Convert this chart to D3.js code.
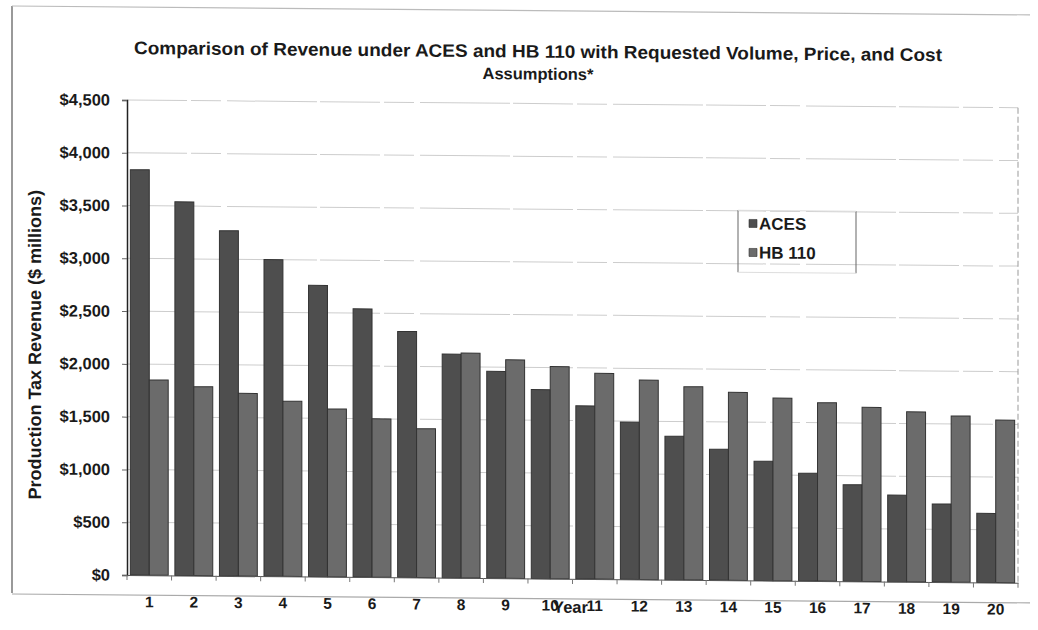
<!DOCTYPE html>
<html>
<head>
<meta charset="utf-8">
<script src="https://cdn.jsdelivr.net/npm/d3@7/dist/d3.min.js"></script>
<style>
  html, body { margin: 0; padding: 0; background: #fff; }
  svg { display: block; }
  text { font-family: "Liberation Sans", Arial, sans-serif; fill: #1a1a1a; }
</style>
</head>
<body>
<svg id="chart" width="1038" height="630"></svg>
<script>
// Production tax revenue by year, $ millions
const years = ["1","2","3","4","5","6","7","8","9","10","11","12","13","14","15","16","17","18","19","20"];
const seriesNames = ["ACES", "HB 110"];
const acesValues = [3840, 3540, 3270, 3000, 2760, 2540, 2330, 2120, 1960, 1790, 1640, 1490, 1360, 1240, 1130, 1020, 915, 820, 740, 655];
const hb110Values = [1850, 1790, 1730, 1660, 1590, 1500, 1410, 2130, 2070, 2010, 1950, 1890, 1830, 1780, 1730, 1690, 1650, 1610, 1575, 1540];
const yTicks = [0, 500, 1000, 1500, 2000, 2500, 3000, 3500, 4000, 4500];

const titleLines = ["Comparison of Revenue under ACES and HB 110 with Requested Volume, Price, and Cost", "Assumptions*"];
const yTitle = "Production Tax Revenue ($ millions)";
const xTitle = "Year";

const colors = { "ACES": "#4e4e4e", "HB 110": "#6b6b6b" };

const rows = years.map((y, i) => ({ year: y, values: [
  { key: "ACES", value: acesValues[i] },
  { key: "HB 110", value: hb110Values[i] }
]}));

const plot = { left: 127, right: 1018, top: 100, bottom: 575 };

const svg = d3.select("#chart");
// slight shear, as on the printed page
const root = svg.append("g")
  .attr("transform", `translate(0,${-Math.tan(0.5 * Math.PI / 180) * plot.left}) skewY(0.5)`);

// outer page frame
root.append("line").attr("x1", 12).attr("x2", 12).attr("y1", 7).attr("y2", 594)
  .attr("stroke", "#555").attr("stroke-width", 1.2);
root.append("line").attr("x1", 12).attr("x2", 1030).attr("y1", 7).attr("y2", 7)
  .attr("stroke", "#bbb").attr("stroke-width", 1.2);
root.append("line").attr("x1", 12).attr("x2", 1030).attr("y1", 595).attr("y2", 595)
  .attr("stroke", "#aaa").attr("stroke-width", 1.2);

const x0 = d3.scaleBand().domain(years).range([plot.left, plot.right]).paddingInner(0.15).paddingOuter(0.075);
const x1 = d3.scaleBand().domain(seriesNames).range([0, x0.bandwidth()]).padding(0);
const y = d3.scaleLinear().domain([0, 4500]).range([plot.bottom, plot.top]);

// gridlines
root.append("g").selectAll("line").data(yTicks.filter(d => d > 0)).join("line")
  .attr("x1", plot.left).attr("x2", plot.right)
  .attr("y1", d => y(d)).attr("y2", d => y(d))
  .attr("stroke", "#cdcdcd").attr("stroke-width", 1)
  .attr("stroke-dasharray", "60,4,30,6,90,3");

// right border of plot area
root.append("line").attr("x1", plot.right).attr("x2", plot.right)
  .attr("y1", plot.top).attr("y2", plot.bottom)
  .attr("stroke", "#999").attr("stroke-dasharray", "6,3");

// bars
const groups = root.append("g").selectAll("g").data(rows).join("g")
  .attr("transform", d => `translate(${x0(d.year)},0)`);
groups.selectAll("rect").data(d => d.values).join("rect")
  .attr("x", d => x1(d.key))
  .attr("width", x1.bandwidth())
  .attr("y", d => y(d.value))
  .attr("height", d => y(0) - y(d.value))
  .attr("fill", d => colors[d.key])
  .attr("stroke", "#333").attr("stroke-width", 1);

// y axis
const yAxis = root.append("g").attr("transform", `translate(${plot.left},0)`)
  .call(d3.axisLeft(y).tickValues(yTicks).tickSize(5).tickPadding(12)
    .tickFormat(d => "$" + d3.format(",")(d)));
yAxis.select(".domain").attr("stroke", "#222").attr("stroke-width", 1.5);
yAxis.selectAll(".tick line").attr("stroke", "#666");
yAxis.selectAll("text").attr("font-size", 16.5).attr("font-weight", "bold").attr("fill", "#1a1a1a");

// x axis
const xAxis = root.append("g").attr("transform", `translate(0,${plot.bottom})`)
  .call(d3.axisBottom(x0).tickSize(0).tickPadding(21));
xAxis.select(".domain").attr("stroke", "#555");
xAxis.selectAll("text").attr("font-size", 15.5).attr("font-weight", "bold").attr("fill", "#1a1a1a");
// small ticks between categories
root.append("g").selectAll("line").data(d3.range(years.length + 1)).join("line")
  .attr("x1", i => plot.left + i * (plot.right - plot.left) / years.length)
  .attr("x2", i => plot.left + i * (plot.right - plot.left) / years.length)
  .attr("y1", plot.bottom).attr("y2", plot.bottom + 5)
  .attr("stroke", "#777");

// axis titles
root.append("text")
  .attr("x", (plot.left + plot.right) / 2 - 2).attr("y", 609)
  .attr("text-anchor", "middle").attr("font-size", 16.5).attr("font-weight", "bold")
  .text(xTitle);
root.append("text")
  .attr("transform", `translate(41,${(plot.top + plot.bottom) / 2 + 8}) rotate(-90)`)
  .attr("text-anchor", "middle").attr("font-size", 18).attr("font-weight", "bold").attr("fill", "#3a3a3a")
  .text(yTitle);

// title
root.append("g").selectAll("text").data(titleLines).join("text")
  .attr("x", 538).attr("y", (d, i) => 54 + i * 22)
  .attr("text-anchor", "middle")
  .attr("font-size", (d, i) => i === 0 ? 18 : 16.5).attr("font-weight", "bold")
  .attr("textLength", (d, i) => i === 0 ? 808 : null)
  .attr("lengthAdjust", "spacingAndGlyphs")
  .text(d => d);

// legend
const legend = root.append("g").attr("transform", "translate(738,205)");
legend.append("line").attr("x1", 0).attr("x2", 0).attr("y1", 0).attr("y2", 62).attr("stroke", "#666");
legend.append("line").attr("x1", 118).attr("x2", 118).attr("y1", 0).attr("y2", 62).attr("stroke", "#666");
legend.append("line").attr("x1", 0).attr("x2", 118).attr("y1", 0).attr("y2", 0).attr("stroke", "#ddd");
legend.append("line").attr("x1", 0).attr("x2", 118).attr("y1", 62).attr("y2", 62).attr("stroke", "#ddd");
const items = legend.selectAll("g.item").data(seriesNames).join("g")
  .attr("class", "item")
  .attr("transform", (d, i) => `translate(11,${13 + i * 29})`);
items.append("rect").attr("x", 0).attr("y", -4).attr("width", 8).attr("height", 8)
  .attr("fill", d => colors[d]).attr("stroke", "#333").attr("stroke-width", 0.6);
items.append("text").attr("x", 10).attr("y", 6)
  .attr("font-size", 17).attr("font-weight", "bold")
  .text(d => d);
</script>
</body>
</html>
